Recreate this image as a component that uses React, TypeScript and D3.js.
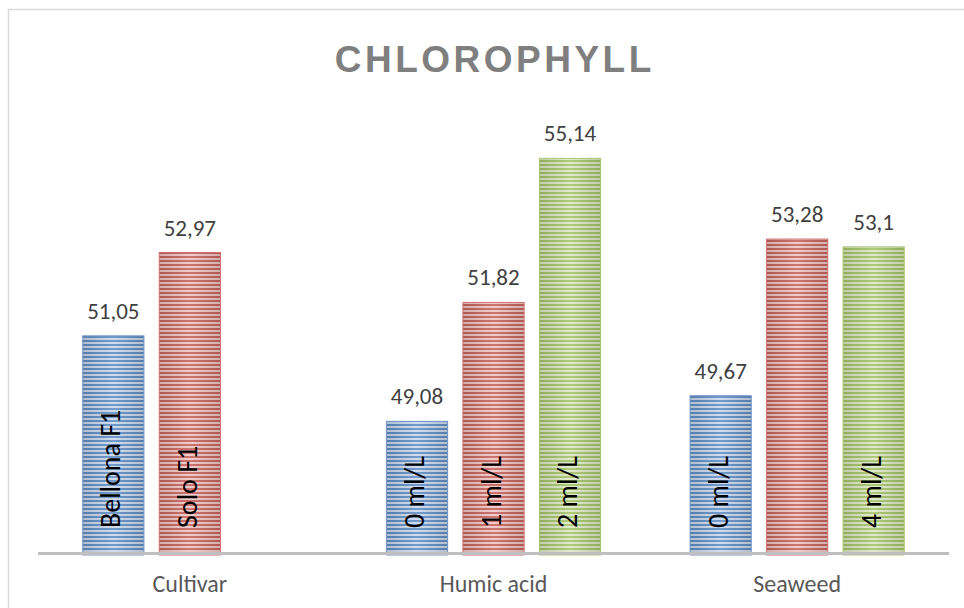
import React from 'react';
import * as d3 from 'd3';

const categories = ['Cultivar', 'Humic acid', 'Seaweed'];
const seriesKeys = ['s1', 's2', 's3'];
const series1 = [51.05, 49.08, 49.67];
const series2 = [52.97, 51.82, 53.28];
const series3 = [null, 55.14, 53.1];
const barLabels1 = ['Bellona F1', '0 ml/L', '0 ml/L'];
const barLabels2 = ['Solo F1', '1 ml/L', ''];
const barLabels3 = ['', '2 ml/L', '4 ml/L'];
const valueLabels1 = ['51,05', '49,08', '49,67'];
const valueLabels2 = ['52,97', '51,82', '53,28'];
const valueLabels3 = ['', '55,14', '53,1'];

const W = 964;
const H = 608;

const palette = [
  { dark: '#4f81bd', light: '#c9d8ec', edge: '#6f95c8' },
  { dark: '#c0504d', light: '#efc6c5', edge: '#cf6f6c' },
  { dark: '#9bbb59', light: '#dde9c5', edge: '#a9c56e' },
];

const font = 'Carlito, Calibri, Lato, "Open Sans", sans-serif';
const titleSpacing = 3.5;

const App = () => {
  const x0 = d3.scaleBand().domain(categories).range([38, 949]);
  const half = 114.75;
  const x1 = d3
    .scaleBand()
    .domain(seriesKeys)
    .range([x0.bandwidth() / 2 - half, x0.bandwidth() / 2 + half])
    .paddingInner(0.2)
    .paddingOuter(0.1);
  const y = d3.scaleLinear().domain([46, 56]).range([555, 121]);
  const base = 552;

  const values = [series1, series2, series3];
  const labels = [barLabels1, barLabels2, barLabels3];
  const vlabels = [valueLabels1, valueLabels2, valueLabels3];

  const bars = [];
  categories.forEach((c, ci) => {
    seriesKeys.forEach((k, si) => {
      const v = values[si][ci];
      if (v == null) return;
      bars.push({ c, k, si, v, label: labels[si][ci], vl: vlabels[si][ci] });
    });
  });

  return (
    <svg width={W} height={H} style={{ position: 'absolute', left: 0, top: 0, background: '#fff' }}>
      <defs>
        {palette.map((p, i) => (
          <React.Fragment key={i}>
            <linearGradient id={`shade${i}`} x1="0" x2="1" y1="0" y2="0">
              <stop offset="0" stopColor="#000" stopOpacity="0.12" />
              <stop offset="0.5" stopColor="#fff" stopOpacity="0.12" />
              <stop offset="1" stopColor="#000" stopOpacity="0.12" />
            </linearGradient>
            <pattern id={`stripe${i}`} width="8" height="4" patternUnits="userSpaceOnUse" y="0">
              <rect width="8" height="4" fill={p.light} />
              <rect width="8" height="2" y="0" fill={p.dark} opacity="0.85" />
            </pattern>
          </React.Fragment>
        ))}
      </defs>

      <rect x={8.5} y={9.5} width={W} height={H} fill="#fff" stroke="#d9d9d9" strokeWidth={1.5} />

      <text
        x={493 + titleSpacing / 2}
        y={72}
        textAnchor="middle"
        fontFamily='"Liberation Sans", Arial, sans-serif'
        fontWeight="bold"
        fontSize={37}
        letterSpacing={titleSpacing}
        fill="#7f7f7f"
      >
        CHLOROPHYLL
      </text>

      {bars.map((b, i) => {
        const bx = x0(b.c) + x1(b.k);
        const bw = x1.bandwidth();
        const top = y(b.v);
        const cx = bx + bw / 2;
        return (
          <g key={i}>
            <rect x={bx} y={top} width={bw} height={y(46) - top} fill={`url(#stripe${b.si})`} />
            <rect x={bx} y={top} width={bw} height={y(46) - top} fill={`url(#shade${b.si})`} stroke={palette[b.si].edge} strokeWidth={1} />
            <text x={cx} y={top - 17} textAnchor="middle" fontFamily={font} fontSize={23} fill="#404040">
              {b.vl}
            </text>
            {b.label && (
              <text
                transform={`translate(${cx},${base - 24}) rotate(-90)`}
                dy="0.25em"
                fontFamily={font}
                fontSize={28}
                fill="#000"
              >
                {b.label}
              </text>
            )}
          </g>
        );
      })}

      <line x1={38} x2={949} y1={553.5} y2={553.5} stroke="#bfbfbf" strokeWidth={3} />

      {categories.map((c) => (
        <text
          key={c}
          x={x0(c) + x0.bandwidth() / 2}
          y={592}
          textAnchor="middle"
          fontFamily={font}
          fontSize={24}
          fill="#595959"
        >
          {c}
        </text>
      ))}
    </svg>
  );
};

export default App;
